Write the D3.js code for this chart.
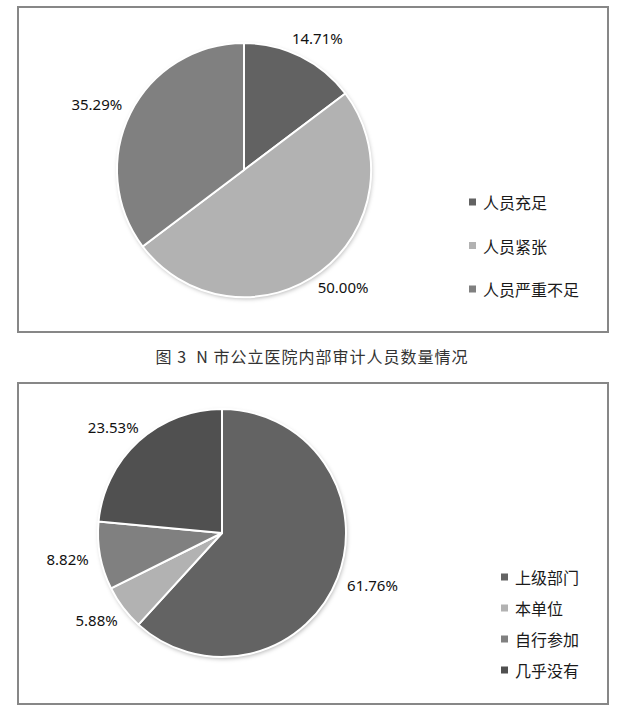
<!DOCTYPE html>
<html>
<head>
<meta charset="utf-8">
<script src="https://cdn.jsdelivr.net/npm/d3@7"></script>
<style>
  body { margin: 0; background: #fff; }
  svg { display: block; }
</style>
</head>
<body>
<div id="chart"></div>
<script>
// data
var staffCats = ['人员充足', '人员紧张', '人员严重不足'];
var staffVals = [14.71, 50.00, 35.29];

var sourceCats = ['上级部门', '本单位', '自行参加', '几乎没有'];
var sourceVals = [61.76, 5.88, 8.82, 23.53];

var caption = '图 3  N 市公立医院内部审计人员数量情况';

// colours
var staffColors = ['#626262', '#b2b2b2', '#808080'];
var sourceColors = ['#636363', '#b2b2b2', '#808080', '#505050'];

var width = 618, height = 709;
var labelFont = '"Noto Sans", "DejaVu Sans", sans-serif';
var cjkFont = '"Noto Sans CJK SC", "Noto Sans", sans-serif';

var svg = d3.select('#chart').append('svg')
  .attr('width', width)
  .attr('height', height);

var defs = svg.append('defs');
defs.append('filter')
  .attr('id', 'pieShadow')
  .attr('x', '-10%').attr('y', '-10%')
  .attr('width', '120%').attr('height', '120%')
  .append('feDropShadow')
  .attr('dx', 1).attr('dy', 2)
  .attr('stdDeviation', 2)
  .attr('flood-color', '#000')
  .attr('flood-opacity', 0.28);

// one panel = frame + pie + labels + legend
function drawPanel(opt) {
  var g = svg.append('g');

  g.append('rect')
    .attr('x', opt.box[0]).attr('y', opt.box[1])
    .attr('width', opt.box[2]).attr('height', opt.box[3])
    .attr('fill', '#fff')
    .attr('stroke', '#878787')
    .attr('stroke-width', 2);

  var pie = d3.pie().sort(null).value(function(d) { return d; });
  var arcs = pie(opt.values);
  var arc = d3.arc().innerRadius(0).outerRadius(opt.r);
  var color = d3.scaleOrdinal().domain(opt.cats).range(opt.colors);

  var pg = g.append('g')
    .attr('transform', 'translate(' + opt.cx + ',' + opt.cy + ')');

  pg.append('circle')
    .attr('r', opt.r)
    .attr('fill', '#fff')
    .attr('filter', 'url(#pieShadow)');

  pg.selectAll('path.slice')
    .data(arcs)
    .enter().append('path')
    .attr('class', 'slice')
    .attr('d', arc)
    .attr('fill', function(d, i) { return color(opt.cats[i]); })
    .attr('stroke', '#fff')
    .attr('stroke-width', 2)
    .attr('stroke-linejoin', 'round');

  // labels outside the end of each slice
  var lr = opt.r + 12;
  pg.selectAll('text.pct')
    .data(arcs)
    .enter().append('text')
    .attr('class', 'pct')
    .attr('font-family', labelFont)
    .attr('font-size', 15)
    .attr('fill', '#111')
    .attr('text-anchor', 'middle')
    .attr('dominant-baseline', 'central')
    .text(function(d) { return d.value.toFixed(2) + '%'; })
    .each(function(d) {
      var a = (d.startAngle + d.endAngle) / 2;
      var w = this.getComputedTextLength();
      var x = lr * Math.sin(a) + (w / 2) * Math.sin(a);
      var y = -lr * Math.cos(a) - 8 * Math.cos(a);
      d3.select(this).attr('x', x).attr('y', y);
    });

  // legend
  var lg = g.append('g')
    .attr('transform', 'translate(' + opt.legX + ',' + opt.legY + ')');
  var item = lg.selectAll('g.item')
    .data(opt.cats)
    .enter().append('g')
    .attr('class', 'item')
    .attr('transform', function(d, i) { return 'translate(0,' + (i * opt.legStep) + ')'; });
  item.append('rect')
    .attr('x', 0).attr('y', -3.5)
    .attr('width', 7).attr('height', 7)
    .attr('fill', function(d) { return color(d); });
  item.append('text')
    .attr('x', 14)
    .attr('y', 0)
    .attr('dominant-baseline', 'central')
    .attr('font-family', cjkFont)
    .attr('font-size', 16)
    .attr('fill', '#1a1a1a')
    .text(function(d) { return d; });
}

drawPanel({
  box: [18, 7, 590, 325],
  cats: staffCats, values: staffVals, colors: staffColors,
  cx: 244, cy: 170, r: 127,
  legX: 469, legY: 202, legStep: 43.5
});

drawPanel({
  box: [18, 383, 590, 321],
  cats: sourceCats, values: sourceVals, colors: sourceColors,
  cx: 222, cy: 533, r: 124,
  legX: 501, legY: 577, legStep: 31
});

svg.append('text')
  .attr('x', 312)
  .attr('y', 356)
  .attr('text-anchor', 'middle')
  .attr('dominant-baseline', 'central')
  .attr('font-family', cjkFont)
  .attr('font-size', 16)
  .attr('letter-spacing', 1)
  .attr('fill', '#333')
  .style('white-space', 'pre')
  .text(caption);
</script>
</body>
</html>
